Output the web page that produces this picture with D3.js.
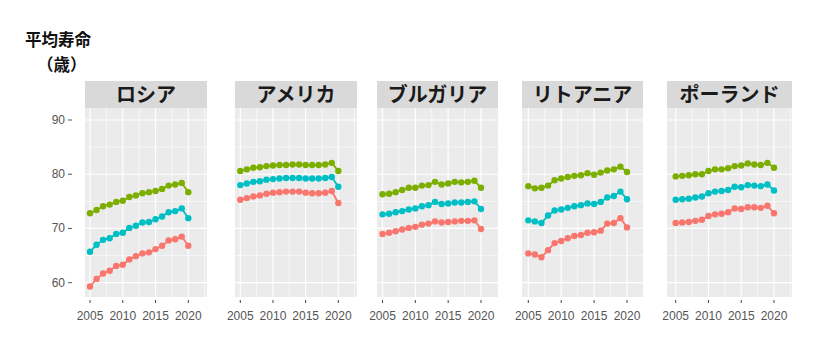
<!DOCTYPE html>
<html><head><meta charset="utf-8">
<script src="https://cdn.jsdelivr.net/npm/d3@7"></script>
<style>body{margin:0;background:#fff;}svg{display:block;}</style>
</head><body>
<svg id="c" width="813" height="355"></svg>
<script>
const years = d3.range(2005, 2021);
const countries = ["ロシア", "アメリカ", "ブルガリア", "リトアニア", "ポーランド"];
const yTicks = [60, 70, 80, 90];
const xTicks = [2005, 2010, 2015, 2020];
const seriesColors = ["#7CAE00", "#00BFC4", "#F8766D"]; // female, total, male

const russiaFemale = [72.8,73.4,74.1,74.4,74.9,75.1,75.8,76.1,76.5,76.7,76.9,77.3,77.9,78.1,78.4,76.7];
const russiaTotal  = [65.7,67.0,67.9,68.2,69.0,69.2,70.1,70.5,71.1,71.2,71.7,72.2,73.0,73.2,73.7,71.9];
const russiaMale   = [59.3,60.7,61.7,62.2,63.1,63.3,64.3,64.9,65.4,65.6,66.2,66.8,67.8,68.0,68.5,66.8];

const usaFemale = [80.6,80.9,81.2,81.3,81.5,81.6,81.7,81.7,81.8,81.8,81.7,81.7,81.7,81.8,82.1,80.6];
const usaTotal  = [78.0,78.3,78.6,78.7,79.0,79.1,79.2,79.3,79.3,79.3,79.2,79.2,79.2,79.3,79.5,77.7];
const usaMale   = [75.3,75.6,75.9,76.1,76.4,76.6,76.7,76.8,76.8,76.8,76.6,76.5,76.5,76.6,76.9,74.7];

const bulgariaFemale = [76.3,76.4,76.7,77.1,77.5,77.5,77.9,78.0,78.6,78.1,78.3,78.6,78.5,78.6,78.8,77.5];
const bulgariaTotal  = [72.6,72.7,73.0,73.2,73.5,73.7,74.1,74.3,74.9,74.5,74.6,74.8,74.8,74.9,75.0,73.6];
const bulgariaMale   = [69.0,69.2,69.5,69.8,70.1,70.3,70.7,70.9,71.3,71.1,71.2,71.3,71.4,71.4,71.5,69.9];

const lithuaniaFemale = [77.8,77.4,77.5,77.9,78.9,79.2,79.5,79.7,79.8,80.2,79.9,80.3,80.7,80.9,81.4,80.4];
const lithuaniaTotal  = [71.5,71.3,71.0,72.4,73.3,73.5,73.8,74.1,74.3,74.6,74.5,74.9,75.7,76.0,76.8,75.4];
const lithuaniaMale   = [65.4,65.2,64.7,66.0,67.3,67.7,68.2,68.6,68.8,69.2,69.3,69.6,70.9,71.0,71.9,70.2];

const polandFemale = [79.6,79.7,79.8,80.0,80.0,80.6,80.9,80.9,81.1,81.5,81.6,82.0,81.8,81.7,82.1,81.2];
const polandTotal  = [75.3,75.4,75.5,75.7,75.9,76.5,76.8,76.9,77.1,77.7,77.6,78.0,77.9,77.8,78.1,77.0];
const polandMale   = [71.0,71.1,71.2,71.4,71.6,72.3,72.6,72.7,73.0,73.7,73.6,73.9,73.9,73.8,74.2,72.8];

const panelSeries = [
  [russiaFemale, russiaTotal, russiaMale],
  [usaFemale, usaTotal, usaMale],
  [bulgariaFemale, bulgariaTotal, bulgariaMale],
  [lithuaniaFemale, lithuaniaTotal, lithuaniaMale],
  [polandFemale, polandTotal, polandMale]
];

// layout (pixels)
const panelLeft  = [85, 235, 377, 522, 667];
const panelRight = [207, 357, 498, 643, 792];
const x2005px = [90, 240.3, 382.5, 528.3, 675.7];
const x2020px = [188.3, 338.3, 481, 627, 774];
const stripTop = 81, panelTop = 108, panelBottom = 297;

const svg = d3.select("#c");
const y = d3.scaleLinear().domain([60, 90]).range([282.7, 120]);
const minorY = [65, 75, 85];

svg.append("text").attr("x", 25).attr("y", 46)
  .attr("font-family", "'Noto Sans CJK JP'").attr("font-weight", "bold").attr("font-size", 16.5)
  .attr("fill", "#111").text("平均寿命");
svg.append("text").attr("x", 37).attr("y", 71)
  .attr("font-family", "'Noto Sans CJK JP'").attr("font-weight", "bold").attr("font-size", 16.5)
  .attr("fill", "#111").text("（歳）");

countries.forEach((name, i) => {
  const g = svg.append("g");
  const x = d3.scaleLinear().domain([2005, 2020]).range([x2005px[i], x2020px[i]]);
  const L = panelLeft[i], R = panelRight[i];
  // strip
  g.append("rect").attr("x", L).attr("y", stripTop).attr("width", R - L).attr("height", panelTop - stripTop)
    .attr("fill", "#D9D9D9");
  g.append("text").attr("x", (L + R) / 2).attr("y", 102).attr("text-anchor", "middle")
    .attr("font-family", "'Noto Sans CJK JP'").attr("font-weight", "bold").attr("font-size", 20)
    .attr("fill", "#1a1a1a").text(name);
  // panel
  g.append("rect").attr("x", L).attr("y", panelTop).attr("width", R - L).attr("height", panelBottom - panelTop)
    .attr("fill", "#EBEBEB");
  // minor grid
  const minorX = [2007.5, 2012.5, 2017.5, 2022.5].filter(v => x(v) < R - 1);
  minorX.forEach(v => g.append("line").attr("x1", x(v)).attr("x2", x(v)).attr("y1", panelTop).attr("y2", panelBottom)
    .attr("stroke", "#fff").attr("stroke-width", 0.6));
  minorY.forEach(v => g.append("line").attr("x1", L).attr("x2", R).attr("y1", y(v)).attr("y2", y(v))
    .attr("stroke", "#fff").attr("stroke-width", 0.6));
  // major grid
  xTicks.forEach(v => g.append("line").attr("x1", x(v)).attr("x2", x(v)).attr("y1", panelTop).attr("y2", panelBottom)
    .attr("stroke", "#fff").attr("stroke-width", 1.2));
  yTicks.forEach(v => g.append("line").attr("x1", L).attr("x2", R).attr("y1", y(v)).attr("y2", y(v))
    .attr("stroke", "#fff").attr("stroke-width", 1.2));
  // x ticks and labels
  xTicks.forEach(v => {
    g.append("line").attr("x1", x(v)).attr("x2", x(v)).attr("y1", 300).attr("y2", 303)
      .attr("stroke", "#444").attr("stroke-width", 1);
    g.append("text").attr("x", x(v)).attr("y", 320).attr("text-anchor", "middle")
      .attr("font-family", "'Liberation Sans', Arial, sans-serif").attr("font-size", 12)
      .attr("fill", "#555").text(v);
  });
  // series
  panelSeries[i].forEach((vals, s) => {
    const pts = years.map((yr, k) => [yr, vals[k]]);
    g.append("path").datum(pts)
      .attr("d", d3.line().x(d => x(d[0])).y(d => y(d[1])))
      .attr("fill", "none").attr("stroke", seriesColors[s]).attr("stroke-width", 1.8);
    g.selectAll(null).data(pts).enter().append("circle")
      .attr("cx", d => x(d[0])).attr("cy", d => y(d[1])).attr("r", 3.2)
      .attr("fill", seriesColors[s]);
  });
});

// y axis labels only on the first panel
yTicks.forEach(v => {
  svg.append("text").attr("x", 65).attr("y", y(v) + 4).attr("text-anchor", "end")
    .attr("font-family", "'Liberation Sans', Arial, sans-serif").attr("font-size", 12)
    .attr("fill", "#555").text(v);
  svg.append("line").attr("x1", 68).attr("x2", 72).attr("y1", y(v)).attr("y2", y(v))
    .attr("stroke", "#555").attr("stroke-width", 1);
});
</script>
</body></html>
